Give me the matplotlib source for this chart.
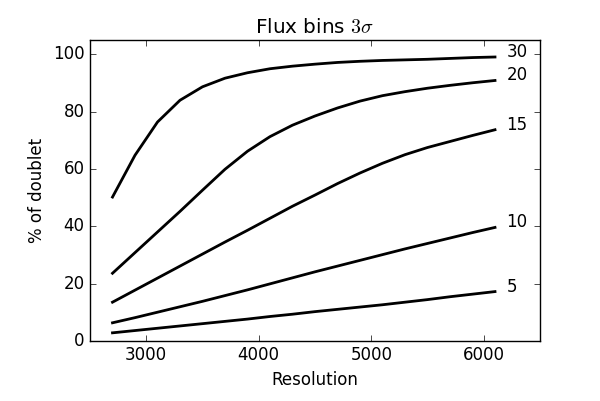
import numpy as np
import matplotlib
matplotlib.use('Agg')
import matplotlib.pyplot as plt

plt.style.use('classic')
plt.rcParams['mathtext.fontset'] = 'cm'
plt.rcParams['font.size'] = 12

res = [2700, 2900, 3100, 3300, 3500, 3700, 3900, 4100, 4300, 4500, 4700,
       4900, 5100, 5300, 5500, 5700, 5900, 6100]

f30 = [50.2, 64.8, 76.4, 84.0, 88.7, 91.7, 93.6, 95.0, 95.9, 96.6, 97.2,
       97.6, 97.9, 98.1, 98.3, 98.6, 98.9, 99.1]
f20 = [23.6, 30.8, 38.0, 45.2, 52.6, 59.9, 66.2, 71.3, 75.3, 78.5, 81.3,
       83.7, 85.6, 87.0, 88.2, 89.2, 90.1, 90.9]
f15 = [13.5, 17.7, 21.9, 26.1, 30.3, 34.5, 38.6, 42.8, 47.0, 50.9, 54.9,
       58.6, 62.0, 65.0, 67.5, 69.6, 71.7, 73.7]
f10 = [6.3, 8.1, 10.0, 11.9, 13.8, 15.8, 17.8, 19.9, 22.0, 24.1, 26.1,
       28.1, 30.1, 32.1, 34.0, 35.9, 37.8, 39.6]
f5 = [2.8, 3.6, 4.4, 5.2, 6.0, 6.8, 7.6, 8.5, 9.3, 10.2, 11.0,
      11.8, 12.6, 13.5, 14.4, 15.4, 16.3, 17.2]

curves = [(f30, '30'), (f20, '20'), (f15, '15'), (f10, '10'), (f5, '5')]

fig = plt.figure(figsize=(6, 4.01), dpi=100, facecolor='white')
ax = fig.add_subplot(111)
fig.subplots_adjust(left=0.15, right=0.9, bottom=0.15, top=0.9)

for vals, lab in curves:
    ax.plot(res, vals, color='k', lw=2)
    ax.text(6200, vals[-1], lab, fontsize=12)

ax.set_xlim(2500, 6500)
ax.set_ylim(0, 105)
ax.set_xticks([3000, 4000, 5000, 6000])
ax.set_yticks([0, 20, 40, 60, 80, 100])
ax.set_xlabel('Resolution')
ax.set_ylabel('% of doublet')
ax.set_title(r'Flux bins $3\sigma$')

fig.savefig('out.png', dpi=100, facecolor='white')
